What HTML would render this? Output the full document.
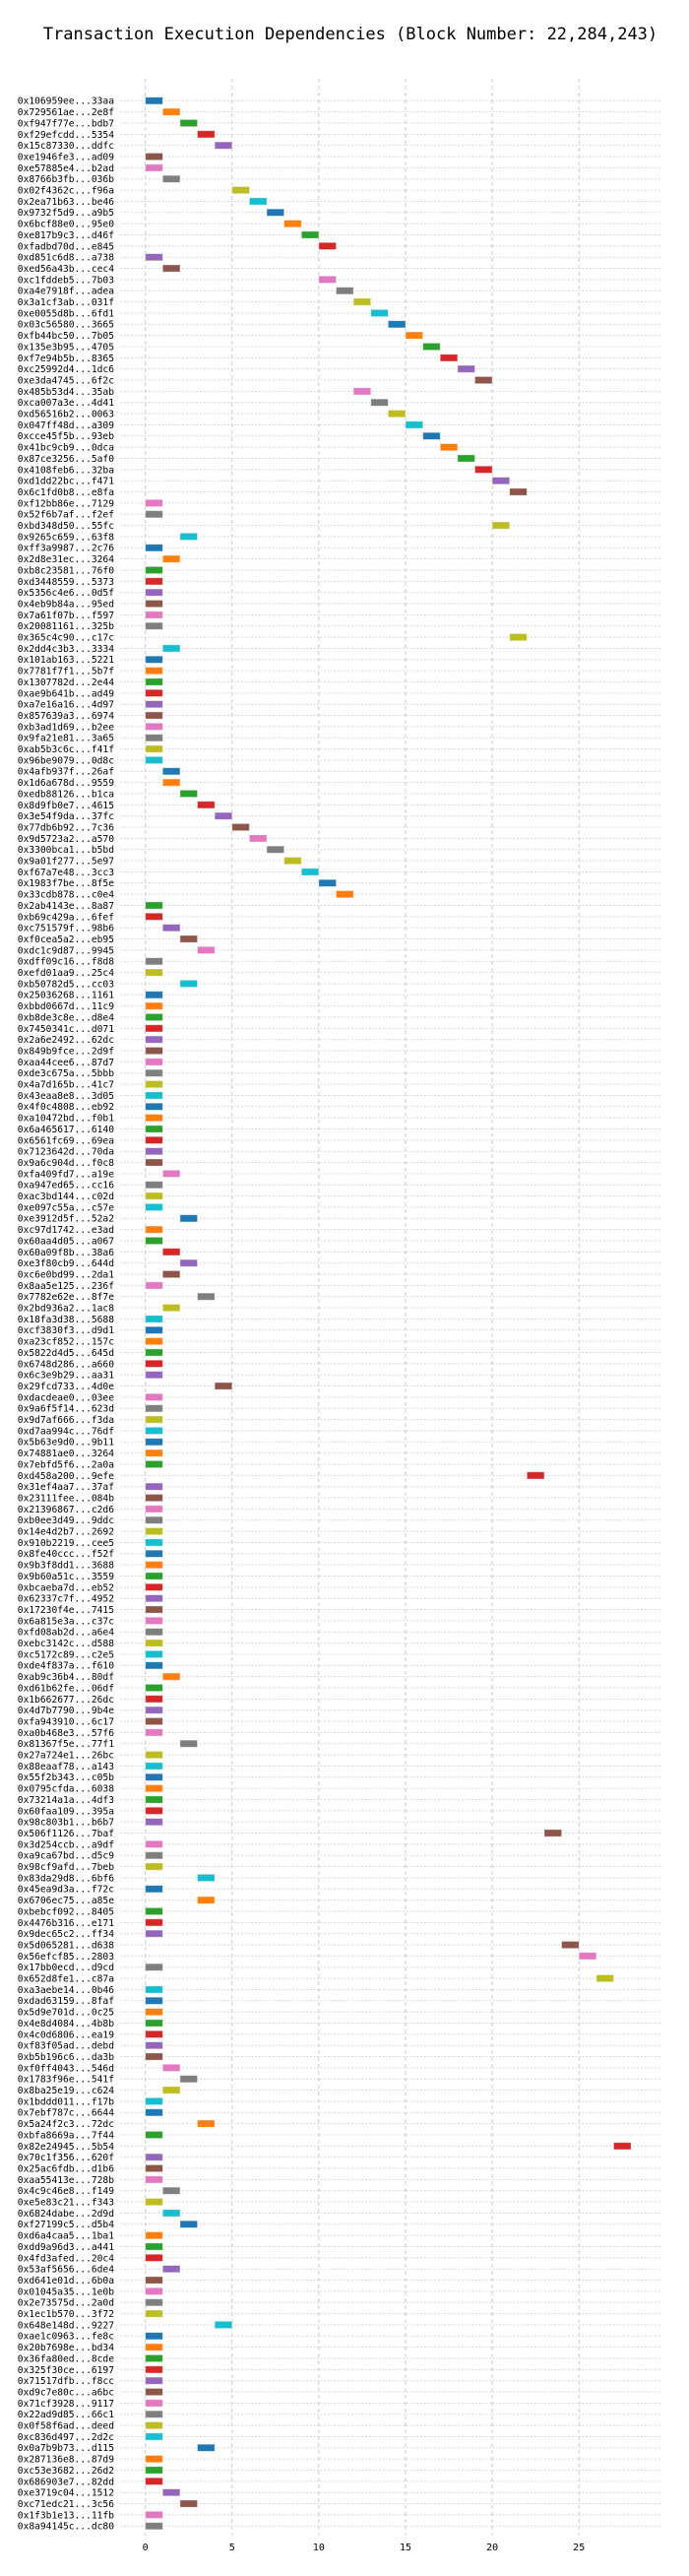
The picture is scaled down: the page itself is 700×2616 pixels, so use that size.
<!DOCTYPE html>
<html><head><meta charset="utf-8"><title>Transaction Execution Dependencies</title>
<style>
html,body{margin:0;padding:0;background:#fff;}
svg{display:block;}
text{font-family:"DejaVu Sans Mono","Liberation Mono",monospace;fill:#000;}
</style></head>
<body>
<svg id="chart" width="700" height="2616" viewBox="0 0 700 2616" xmlns="http://www.w3.org/2000/svg">
<text x="356" y="40" text-anchor="middle" font-size="17">Transaction Execution Dependencies (Block Number: 22,284,243)</text>
<g id="grid"></g>
<g id="rows"></g>
<g id="bars"></g>
<g id="ylabels"></g>
<g id="xticks"></g>
</svg>
<script>
const txLabels = ["0x106959ee...33aa","0x729561ae...2e8f","0xf947f77e...bdb7","0xf29efcdd...5354","0x15c87330...ddfc","0xe1946fe3...ad09","0xe57885e4...b2ad","0x8766b3fb...036b","0x02f4362c...f96a","0x2ea71b63...be46","0x9732f5d9...a9b5","0x6bcf88e0...95e0","0xe817b9c3...d46f","0xfadbd70d...e845","0xd851c6d8...a738","0xed56a43b...cec4","0xc1fddeb5...7b03","0xa4e7918f...adea","0x3a1cf3ab...031f","0xe0055d8b...6fd1","0x03c56580...3665","0xfb44bc50...7b05","0x135e3b95...4705","0xf7e94b5b...8365","0xc25992d4...1dc6","0xe3da4745...6f2c","0x485b53d4...35ab","0xca007a3e...4d41","0xd56516b2...0063","0x047ff48d...a309","0xcce45f5b...93eb","0x41bc9cb9...0dca","0x87ce3256...5af0","0x4108feb6...32ba","0xd1dd22bc...f471","0x6c1fd0b8...e8fa","0xf12bb86e...7129","0x52f6b7af...f2ef","0xbd348d50...55fc","0x9265c659...63f8","0xff3a9987...2c76","0x2d8e31ec...3264","0xb8c23581...76f0","0xd3448559...5373","0x5356c4e6...0d5f","0x4eb9b84a...95ed","0x7a61f07b...f597","0x20081161...325b","0x365c4c90...c17c","0x2dd4c3b3...3334","0x101ab163...5221","0x7781f7f1...5b7f","0x1307782d...2e44","0xae9b641b...ad49","0xa7e16a16...4d97","0x857639a3...6974","0xb3ad1d69...b2ee","0x9fa21e81...3a65","0xab5b3c6c...f41f","0x96be9079...0d8c","0x4afb937f...26af","0x1d6a678d...9559","0xedb88126...b1ca","0x8d9fb0e7...4615","0x3e54f9da...37fc","0x77db6b92...7c36","0x9d5723a2...a570","0x3300bca1...b5bd","0x9a01f277...5e97","0xf67a7e48...3cc3","0x1983f7be...8f5e","0x33cdb878...c0e4","0x2ab4143e...8a87","0xb69c429a...6fef","0xc751579f...98b6","0xf0cea5a2...eb95","0xdc1c9d87...9945","0xdff09c16...f8d8","0xefd01aa9...25c4","0xb50782d5...cc03","0x25036268...1161","0xbbd0667d...11c9","0xb8de3c8e...d8e4","0x7450341c...d071","0x2a6e2492...62dc","0x849b9fce...2d9f","0xaa44cee6...87d7","0xde3c675a...5bbb","0x4a7d165b...41c7","0x43eaa8e8...3d05","0x4f0c4808...eb92","0xa10472bd...f0b1","0x6a465617...6140","0x6561fc69...69ea","0x7123642d...70da","0x9a6c904d...f0c8","0xfa409fd7...a19e","0xa947ed65...cc16","0xac3bd144...c02d","0xe097c55a...c57e","0xe3912d5f...52a2","0xc97d1742...e3ad","0x60aa4d05...a067","0x60a09f8b...38a6","0xe3f80cb9...644d","0xc6e0bd99...2da1","0x8aa5e125...236f","0x7782e62e...8f7e","0x2bd936a2...1ac8","0x18fa3d38...5688","0xcf3830f3...d9d1","0xa23cf852...157c","0x5822d4d5...645d","0x6748d286...a660","0x6c3e9b29...aa31","0x29fcd733...4d0e","0xdacdeae0...03ee","0x9a6f5f14...623d","0x9d7af666...f3da","0xd7aa994c...76df","0x5b63e9d0...9b11","0x74881ae0...3264","0x7ebfd5f6...2a0a","0xd458a200...9efe","0x31ef4aa7...37af","0x23111fee...084b","0x21396867...c2d6","0xb0ee3d49...9ddc","0x14e4d2b7...2692","0x910b2219...cee5","0x8fe40ccc...f52f","0x9b3f8dd1...3688","0x9b60a51c...3559","0xbcaeba7d...eb52","0x62337c7f...4952","0x17230f4e...7415","0x6a815e3a...c37c","0xfd08ab2d...a6e4","0xebc3142c...d588","0xc5172c89...c2e5","0xde4f837a...f610","0xab9c36b4...80df","0xd61b62fe...06df","0x1b662677...26dc","0x4d7b7790...9b4e","0xfa943910...6c17","0xa0b468e3...57f6","0x81367f5e...77f1","0x27a724e1...26bc","0x88eaaf78...a143","0x55f2b343...c05b","0x0795cfda...6038","0x73214a1a...4df3","0x60faa109...395a","0x98c803b1...b6b7","0x506f1126...7baf","0x3d254ccb...a9df","0xa9ca67bd...d5c9","0x98cf9afd...7beb","0x83da29d8...6bf6","0x45ea9d3a...f72c","0x6706ec75...a85e","0xbebcf092...8405","0x4476b316...e171","0x9dec65c2...ff34","0x5d065281...d638","0x56efcf85...2803","0x17bb0ecd...d9cd","0x652d8fe1...c87a","0xa3aebe14...0b46","0xdad63159...8faf","0x5d9e701d...0c25","0x4e8d4084...4b8b","0x4c0d6806...ea19","0xf83f05ad...debd","0xb5b196c6...da3b","0xf0ff4043...546d","0x1783f96e...541f","0x8ba25e19...c624","0x1bddd011...f17b","0x7ebf787c...6644","0x5a24f2c3...72dc","0xbfa8669a...7f44","0x82e24945...5b54","0x70c1f356...620f","0x25ac6fdb...d1b6","0xaa55413e...728b","0x4c9c46e8...f149","0xe5e83c21...f343","0x6824dabe...2d9d","0xf27199c5...d5b4","0xd6a4caa5...1ba1","0xdd9a96d3...a441","0x4fd3afed...20c4","0x53af5656...6de4","0xd641e01d...6b0a","0x01045a35...1e0b","0x2e73575d...2a0d","0x1ec1b570...3f72","0x648e148d...9227","0xae1c0963...fe8c","0x20b7698e...bd34","0x36fa80ed...8cde","0x325f30ce...6197","0x71517dfb...f8cc","0xd9c7e80c...a6bc","0x71cf3928...9117","0x22ad9d85...66c1","0x0f58f6ad...deed","0xc836d497...2d2c","0x0a7b9b73...d115","0x287136e8...87d9","0xc53e3682...26d2","0x686903e7...82dd","0xe3719c04...1512","0xc71edc21...3c56","0x1f3b1e13...11fb","0x8a94145c...dc80"];
const startSlots = [0,1,2,3,4,0,0,1,5,6,7,8,9,10,0,1,10,11,12,13,14,15,16,17,18,19,12,13,14,15,16,17,18,19,20,21,0,0,20,2,0,1,0,0,0,0,0,0,21,1,0,0,0,0,0,0,0,0,0,0,1,1,2,3,4,5,6,7,8,9,10,11,0,0,1,2,3,0,0,2,0,0,0,0,0,0,0,0,0,0,0,0,0,0,0,0,1,0,0,0,2,0,0,1,2,1,0,3,1,0,0,0,0,0,0,4,0,0,0,0,0,0,0,22,0,0,0,0,0,0,0,0,0,0,0,0,0,0,0,0,0,1,0,0,0,0,0,2,0,0,0,0,0,0,0,23,0,0,0,3,0,3,0,0,0,24,25,0,26,0,0,0,0,0,0,0,1,2,1,0,0,3,0,27,0,0,0,1,0,1,2,0,0,0,1,0,0,0,0,4,0,0,0,0,0,0,0,0,0,0,3,0,0,0,1,2,0,0];
const durations = startSlots.map(() => 1);
const xTicks = [0,5,10,15,20,25];
const palette = ["#1f77b4","#ff7f0e","#2ca02c","#d62728","#9467bd","#8c564b","#e377c2","#7f7f7f","#bcbd22","#17becf"];

const NS = "http://www.w3.org/2000/svg";
const X0 = 147.7, XU = 17.62, XMIN = -1.42, XMAX = 29.65;
const Y0 = 102.3, YP = 11.35, GRID_TOP = 80, GRID_BOT = 2575;
const xs = v => X0 + v * XU;
const ys = i => Y0 + i * YP;
function mk(tag, attrs){ const e = document.createElementNS(NS, tag); for (const k in attrs) e.setAttribute(k, attrs[k]); return e; }

const grid = document.getElementById('grid');
xTicks.forEach(t => {
  const l = mk('line', {x1: xs(t), x2: xs(t), y1: GRID_TOP, y2: GRID_BOT, stroke: '#cfcfcf', 'stroke-width': 1.1, 'stroke-dasharray': '4,3'});
  
  
  grid.appendChild(l);
});
const xt = document.getElementById('xticks');
xTicks.forEach(t => {
  const tx = mk('text', {x: xs(t), y: 2590, 'text-anchor': 'middle', 'font-size': 10});
  tx.textContent = t;
  
  
  xt.appendChild(tx);
});
const rows = document.getElementById('rows');
const bars = document.getElementById('bars');
const yl = document.getElementById('ylabels');
txLabels.forEach((lab, i) => {
  const y = ys(i);
  const rl = mk('line', {x1: xs(XMIN), x2: xs(XMAX), y1: y, y2: y, stroke: '#cccccc', 'stroke-width': 1, 'stroke-dasharray': '1.5,2'});
  
  
  rows.appendChild(rl);
  const b = mk('rect', {x: xs(startSlots[i]), y: y - 3.6, width: xs(startSlots[i] + durations[i]) - xs(startSlots[i]), height: 7.2, fill: palette[i % 10], stroke: 'rgba(255,255,255,0.45)', 'stroke-width': 0.8});
  
  
  bars.appendChild(b);
  const t = mk('text', {x: 116, y: y + 3.4, 'text-anchor': 'end', 'font-size': 9.6});
  t.textContent = lab;
  
  
  yl.appendChild(t);
});
</script>
</body></html>
